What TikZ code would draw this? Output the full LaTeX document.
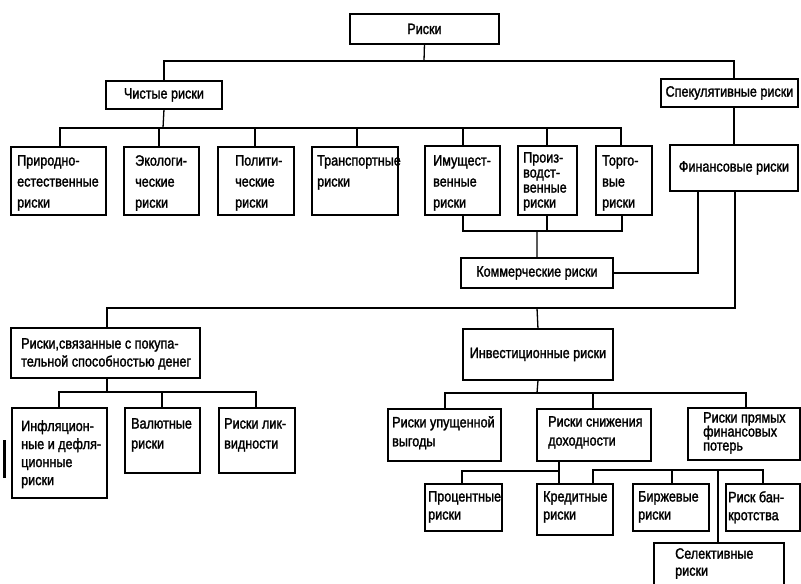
\documentclass[tikz,border=0pt]{standalone}
\usepackage{fontspec}
\setmainfont{Liberation Sans}[FakeStretch=0.84,FakeBold=1.6]
\begin{document}
\begin{tikzpicture}[x=1pt,y=-1pt,
  box/.style={draw, line width=1.9pt, anchor=north west, inner sep=0pt, font=\fontsize{15}{19}\selectfont},
  txt/.style={anchor=north west, inner sep=0pt, align=left, font=\fontsize{15}{21}\selectfont},
  conn/.style={line width=1.3pt}]
\clip (0,0) rectangle (801,584);
\fill[white] (0,0) rectangle (801,584);
% level 0-1
\node[box, minimum width=149pt, minimum height=30pt] (root) at (349,13) {Риски};
\node[box, minimum width=116pt, minimum height=28pt] (chist) at (105,80) {Чистые риски};
\node[box, minimum width=137pt, minimum height=28pt] (spek) at (660,78) {Спекулятивные риски};
% pure risks
\node[box, minimum width=95pt, minimum height=68pt] (prir) at (10,146) {};
\node[txt] (prir-t) at (17,155) {Природно-\\естественные\\риски};
\node[box, minimum width=75pt, minimum height=68pt] (eko) at (123,146) {};
\node[txt] (eko-t) at (135,155) {Экологи-\\ческие\\риски};
\node[box, minimum width=76pt, minimum height=68pt] (pol) at (217,146) {};
\node[txt] (pol-t) at (235,155) {Полити-\\ческие\\риски};
\node[box, minimum width=86pt, minimum height=68pt] (trans) at (311,146) {};
\node[txt] (trans-t) at (317,155) {Транспортные\\риски};
\node[box, minimum width=75pt, minimum height=69pt] (imu) at (424,145) {};
\node[txt] (imu-t) at (433,155) {Имущест-\\венные\\риски};
\node[box, minimum width=59pt, minimum height=69pt] (proiz) at (517,145) {};
\node[txt, font=\fontsize{15}{15}\selectfont] (proiz-t) at (523,152) {Произ-\\водст-\\венные\\риски};
\node[box, minimum width=56pt, minimum height=69pt] (torg) at (595,145) {};
\node[txt] (torg-t) at (602,155) {Торго-\\вые\\риски};
\node[box, minimum width=128pt, minimum height=46pt] (fin) at (669,144) {Финансовые риски};
% commercial
\node[box, minimum width=152pt, minimum height=30pt] (komm) at (460,257) {Коммерческие риски};
\node[box, minimum width=189pt, minimum height=50pt] (pokup) at (10,327) {};
\node[txt, font=\fontsize{15}{18}\selectfont] (pokup-t) at (21,338) {Риски,связанные с покупа-\\тельной способностью денег};
\node[box, minimum width=150pt, minimum height=51pt] (invest) at (462,328) {Инвестиционные риски};
% purchasing power children
\node[box, minimum width=95pt, minimum height=90pt] (infl) at (11,407) {};
\node[txt, font=\fontsize{15}{18}\selectfont] (infl-t) at (21,420) {Инфляцион-\\ные и дефля-\\ционные\\риски};
\node[box, minimum width=75pt, minimum height=65pt] (val) at (124,407) {};
\node[txt, font=\fontsize{15}{20}\selectfont] (val-t) at (131,418) {Валютные\\риски};
\node[box, minimum width=76pt, minimum height=65pt] (likv) at (218,407) {};
\node[txt, font=\fontsize{15}{20}\selectfont] (likv-t) at (224,418) {Риски лик-\\видности};
% investment children
\node[box, minimum width=113pt, minimum height=52pt] (upush) at (387,408) {};
\node[txt, font=\fontsize{15}{19}\selectfont] (upush-t) at (392,416) {Риски упущенной\\выгоды};
\node[box, minimum width=114pt, minimum height=52pt] (snizh) at (536,408) {};
\node[txt, font=\fontsize{15}{19}\selectfont] (snizh-t) at (548,416) {Риски снижения\\доходности};
\node[box, minimum width=112pt, minimum height=52pt] (pryam) at (687,407) {};
\node[txt, font=\fontsize{15}{14}\selectfont] (pryam-t) at (703,412) {Риски прямых\\финансовых\\потерь};
% lower row
\node[box, minimum width=77pt, minimum height=47pt] (proc) at (424,483) {};
\node[txt, font=\fontsize{15}{18}\selectfont] (proc-t) at (428,491) {Процентные\\риски};
\node[box, minimum width=76pt, minimum height=51pt] (kred) at (536,483) {};
\node[txt, font=\fontsize{15}{18}\selectfont] (kred-t) at (543,491) {Кредитные\\риски};
\node[box, minimum width=76pt, minimum height=47pt] (birzh) at (632,483) {};
\node[txt, font=\fontsize{15}{18}\selectfont] (birzh-t) at (638,491) {Биржевые\\риски};
\node[box, minimum width=74pt, minimum height=47pt] (bankr) at (725,483) {};
\node[txt, font=\fontsize{15}{18}\selectfont] (bankr-t) at (728,491) {Риск бан-\\кротства};
\node[box, minimum width=130pt, minimum height=60pt] (selek) at (653,542) {};
\node[txt, font=\fontsize{15}{17}\selectfont] (selek-t) at (675,548) {Селективные\\риски};
% junction coordinates
\coordinate (jr) at (424,61);
\coordinate (jrr) at (734,61);
\coordinate (jc) at (163,128);
\coordinate (c1) at (60,128);
\coordinate (c2) at (159,128);
\coordinate (c3) at (255,128);
\coordinate (c4) at (357,128);
\coordinate (c5) at (463,128);
\coordinate (c6) at (547,128);
\coordinate (c7) at (621,128);
\coordinate (k1) at (463,231);
\coordinate (k2) at (547,231);
\coordinate (k3) at (622,231);
\coordinate (kc) at (537,231);
\coordinate (f1) at (698,272);
\coordinate (f2) at (735,308);
\coordinate (p1) at (107,308);
\coordinate (i1) at (537,308);
\coordinate (n0) at (537,393);
\coordinate (n1) at (445,393);
\coordinate (n2) at (593,393);
\coordinate (n3) at (746,393);
\coordinate (q0) at (107,392);
\coordinate (q1) at (59,392);
\coordinate (q2) at (162,392);
\coordinate (q3) at (256,392);
\coordinate (s0) at (559,471);
\coordinate (s1) at (462,471);
\coordinate (b1) at (593,470);
\coordinate (b2) at (672,470);
\coordinate (b3) at (718,470);
\coordinate (b4) at (763,470);
% connectors
\draw[conn] (root.south) -- (jr);
\draw[conn] (chist.north) |- (jrr) -- (spek.north -| jrr);
\draw[conn] (chist.south) -- (jc);
\draw[conn] (prir.north -| c1) -- (c1) -- (c7) -- (torg.north -| c7);
\draw[conn] (c2) -- (eko.north -| c2);
\draw[conn] (c3) -- (pol.north -| c3);
\draw[conn] (c4) -- (trans.north -| c4);
\draw[conn] (c5) -- (imu.north -| c5);
\draw[conn] (c6) -- (proiz.north -| c6);
\draw[conn] (spek.south -| jrr) -- (fin.north -| jrr);
\draw[conn] (imu.south -| k1) -- (k1) -- (k3) -- (torg.south -| k3);
\draw[conn] (proiz.south -| k2) -- (k2);
\draw[conn] (kc) -- (komm.north);
\draw[conn] (komm.east) -- (komm.east -| f1) -- (fin.south -| f1);
\draw[conn] (fin.south -| f2) -- (f2) -- (p1) -- (pokup.north -| p1);
\draw[conn] (i1) -- (invest.north);
\draw[conn] (invest.south) -- (n0);
\draw[conn] (upush.north -| n1) -- (n1) -- (n3) -- (pryam.north -| n3);
\draw[conn] (n2) -- (snizh.north -| n2);
\draw[conn] (pokup.south -| q0) -- (q0);
\draw[conn] (infl.north -| q1) -- (q1) -- (q3) -- (likv.north -| q3);
\draw[conn] (q2) -- (val.north -| q2);
\draw[conn] (snizh.south -| s0) -- (kred.north -| s0);
\draw[conn] (s0) -- (s1) -- (proc.north -| s1);
\draw[conn] (kred.north -| b1) -- (b1) -- (b4) -- (bankr.north -| b4);
\draw[conn] (b2) -- (birzh.north -| b2);
\draw[conn] (b3) -- (selek.north -| b3);
% scan mark at left edge
\draw[line width=3pt] (4,440) -- (4,478);
\end{tikzpicture}
\end{document}
